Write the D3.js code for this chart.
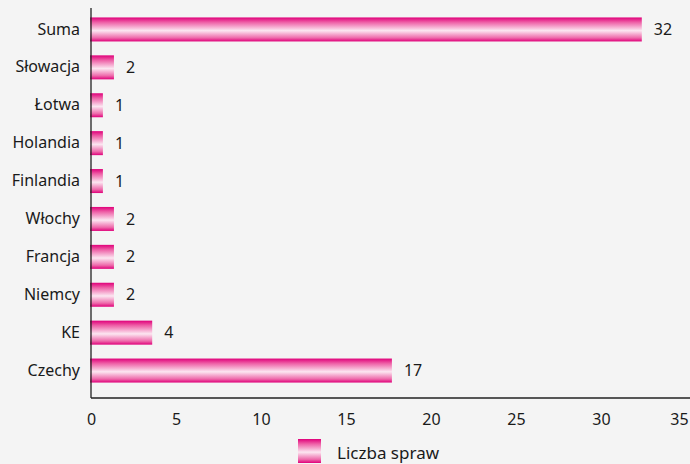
<!DOCTYPE html>
<html>
<head>
<meta charset="utf-8">
<script src="https://cdn.jsdelivr.net/npm/d3@7"></script>
<style>
body { margin:0; background:#f4f4f4; }
svg { display:block; font-family:"Noto Sans", sans-serif; }
</style>
</head>
<body>
<div id="chart"><svg></svg></div>
<script>
// categories, top to bottom
var categories = ["Suma","Słowacja","Łotwa","Holandia","Finlandia","Włochy","Francja","Niemcy","KE","Czechy"]
// labels printed next to the bars
var labels = [32,2,1,1,1,2,2,2,4,17]
// bar lengths as drawn in the picture
var barValues = [32.4,1.35,0.7,0.7,0.7,1.35,1.35,1.35,3.6,17.7]
var xTicks = [0,5,10,15,20,25,30,35]
var seriesName = "Liczba spraw"

var screen = {width:690,height:464}
var margins = {left:91,right:4,top:10,bottom:66}

var svg = d3.select("#chart svg")
    .attr("width",screen.width)
    .attr("height",screen.height)

svg.append("rect")
    .attr("width",screen.width)
    .attr("height",screen.height)
    .attr("fill","#f4f4f4")

var grad = svg.append("defs").append("linearGradient")
    .attr("id","barGrad")
    .attr("x1",0).attr("y1",0).attr("x2",0).attr("y2",1)
grad.append("stop").attr("offset","0%").attr("stop-color","#e0007a")
grad.append("stop").attr("offset","20%").attr("stop-color","#ee5fa6")
grad.append("stop").attr("offset","55%").attr("stop-color","#fce6f1")
grad.append("stop").attr("offset","85%").attr("stop-color","#ee6aab")
grad.append("stop").attr("offset","100%").attr("stop-color","#e0007a")

var xScale = d3.scaleLinear()
    .domain([0,35])
    .range([margins.left, margins.left + 595])

var yScale = d3.scaleBand()
    .domain(categories)
    .range([10.5, 389.5])

var axisBottomY = 398

// bars
var barH = 24
svg.selectAll("rect.bar")
    .data(categories)
    .enter()
    .append("rect")
    .attr("class","bar")
    .attr("x",xScale(0) - 1)
    .attr("y",function(c){ return yScale(c) + yScale.bandwidth()/2 - barH/2 })
    .attr("width",function(c,i){ return xScale(barValues[i]) - xScale(0) + 1 })
    .attr("height",barH)
    .attr("fill","url(#barGrad)")

// value labels
svg.selectAll("text.val")
    .data(categories)
    .enter()
    .append("text")
    .attr("class","val")
    .attr("x",function(c,i){ return xScale(barValues[i]) + 12 })
    .attr("y",function(c){ return yScale(c) + yScale.bandwidth()/2 })
    .attr("dy","0.35em")
    .attr("font-size",16)
    .attr("fill","#1a1a1a")
    .text(function(c,i){ return labels[i] })

// y axis
var yAxis = d3.axisLeft(yScale).tickSize(0).tickPadding(11)
var gy = svg.append("g")
    .attr("transform","translate("+xScale(0)+",0)")
    .call(yAxis)
gy.select(".domain").remove()
gy.selectAll("text").attr("font-size",16).attr("fill","#1a1a1a").attr("font-family","Noto Sans")
svg.append("line")
    .attr("x1",xScale(0)).attr("x2",xScale(0))
    .attr("y1",8).attr("y2",axisBottomY)
    .attr("stroke","#222").attr("stroke-width",1.3)

// x axis
var xAxis = d3.axisBottom(xScale).tickValues(xTicks).tickSize(0).tickPadding(16)
var gx = svg.append("g")
    .attr("transform","translate(0,"+axisBottomY+")")
    .call(xAxis)
gx.select(".domain").remove()
gx.selectAll("text").attr("font-size",16).attr("fill","#1a1a1a").attr("font-family","Noto Sans")
gx.selectAll(".tick").filter(function(d){ return d == 35 })
    .select("text").attr("dx",-7)
svg.append("line")
    .attr("x1",xScale(0)).attr("x2",screen.width)
    .attr("y1",axisBottomY).attr("y2",axisBottomY)
    .attr("stroke","#222").attr("stroke-width",1.3)

// legend
var legend = svg.append("g").attr("transform","translate(298,439)")
legend.append("rect")
    .attr("width",23).attr("height",24)
    .attr("fill","url(#barGrad)")
legend.append("text")
    .attr("x",39).attr("y",19.5)
    .attr("font-size",17)
    .attr("fill","#1a1a1a")
    .text(seriesName)
</script>
</body>
</html>
